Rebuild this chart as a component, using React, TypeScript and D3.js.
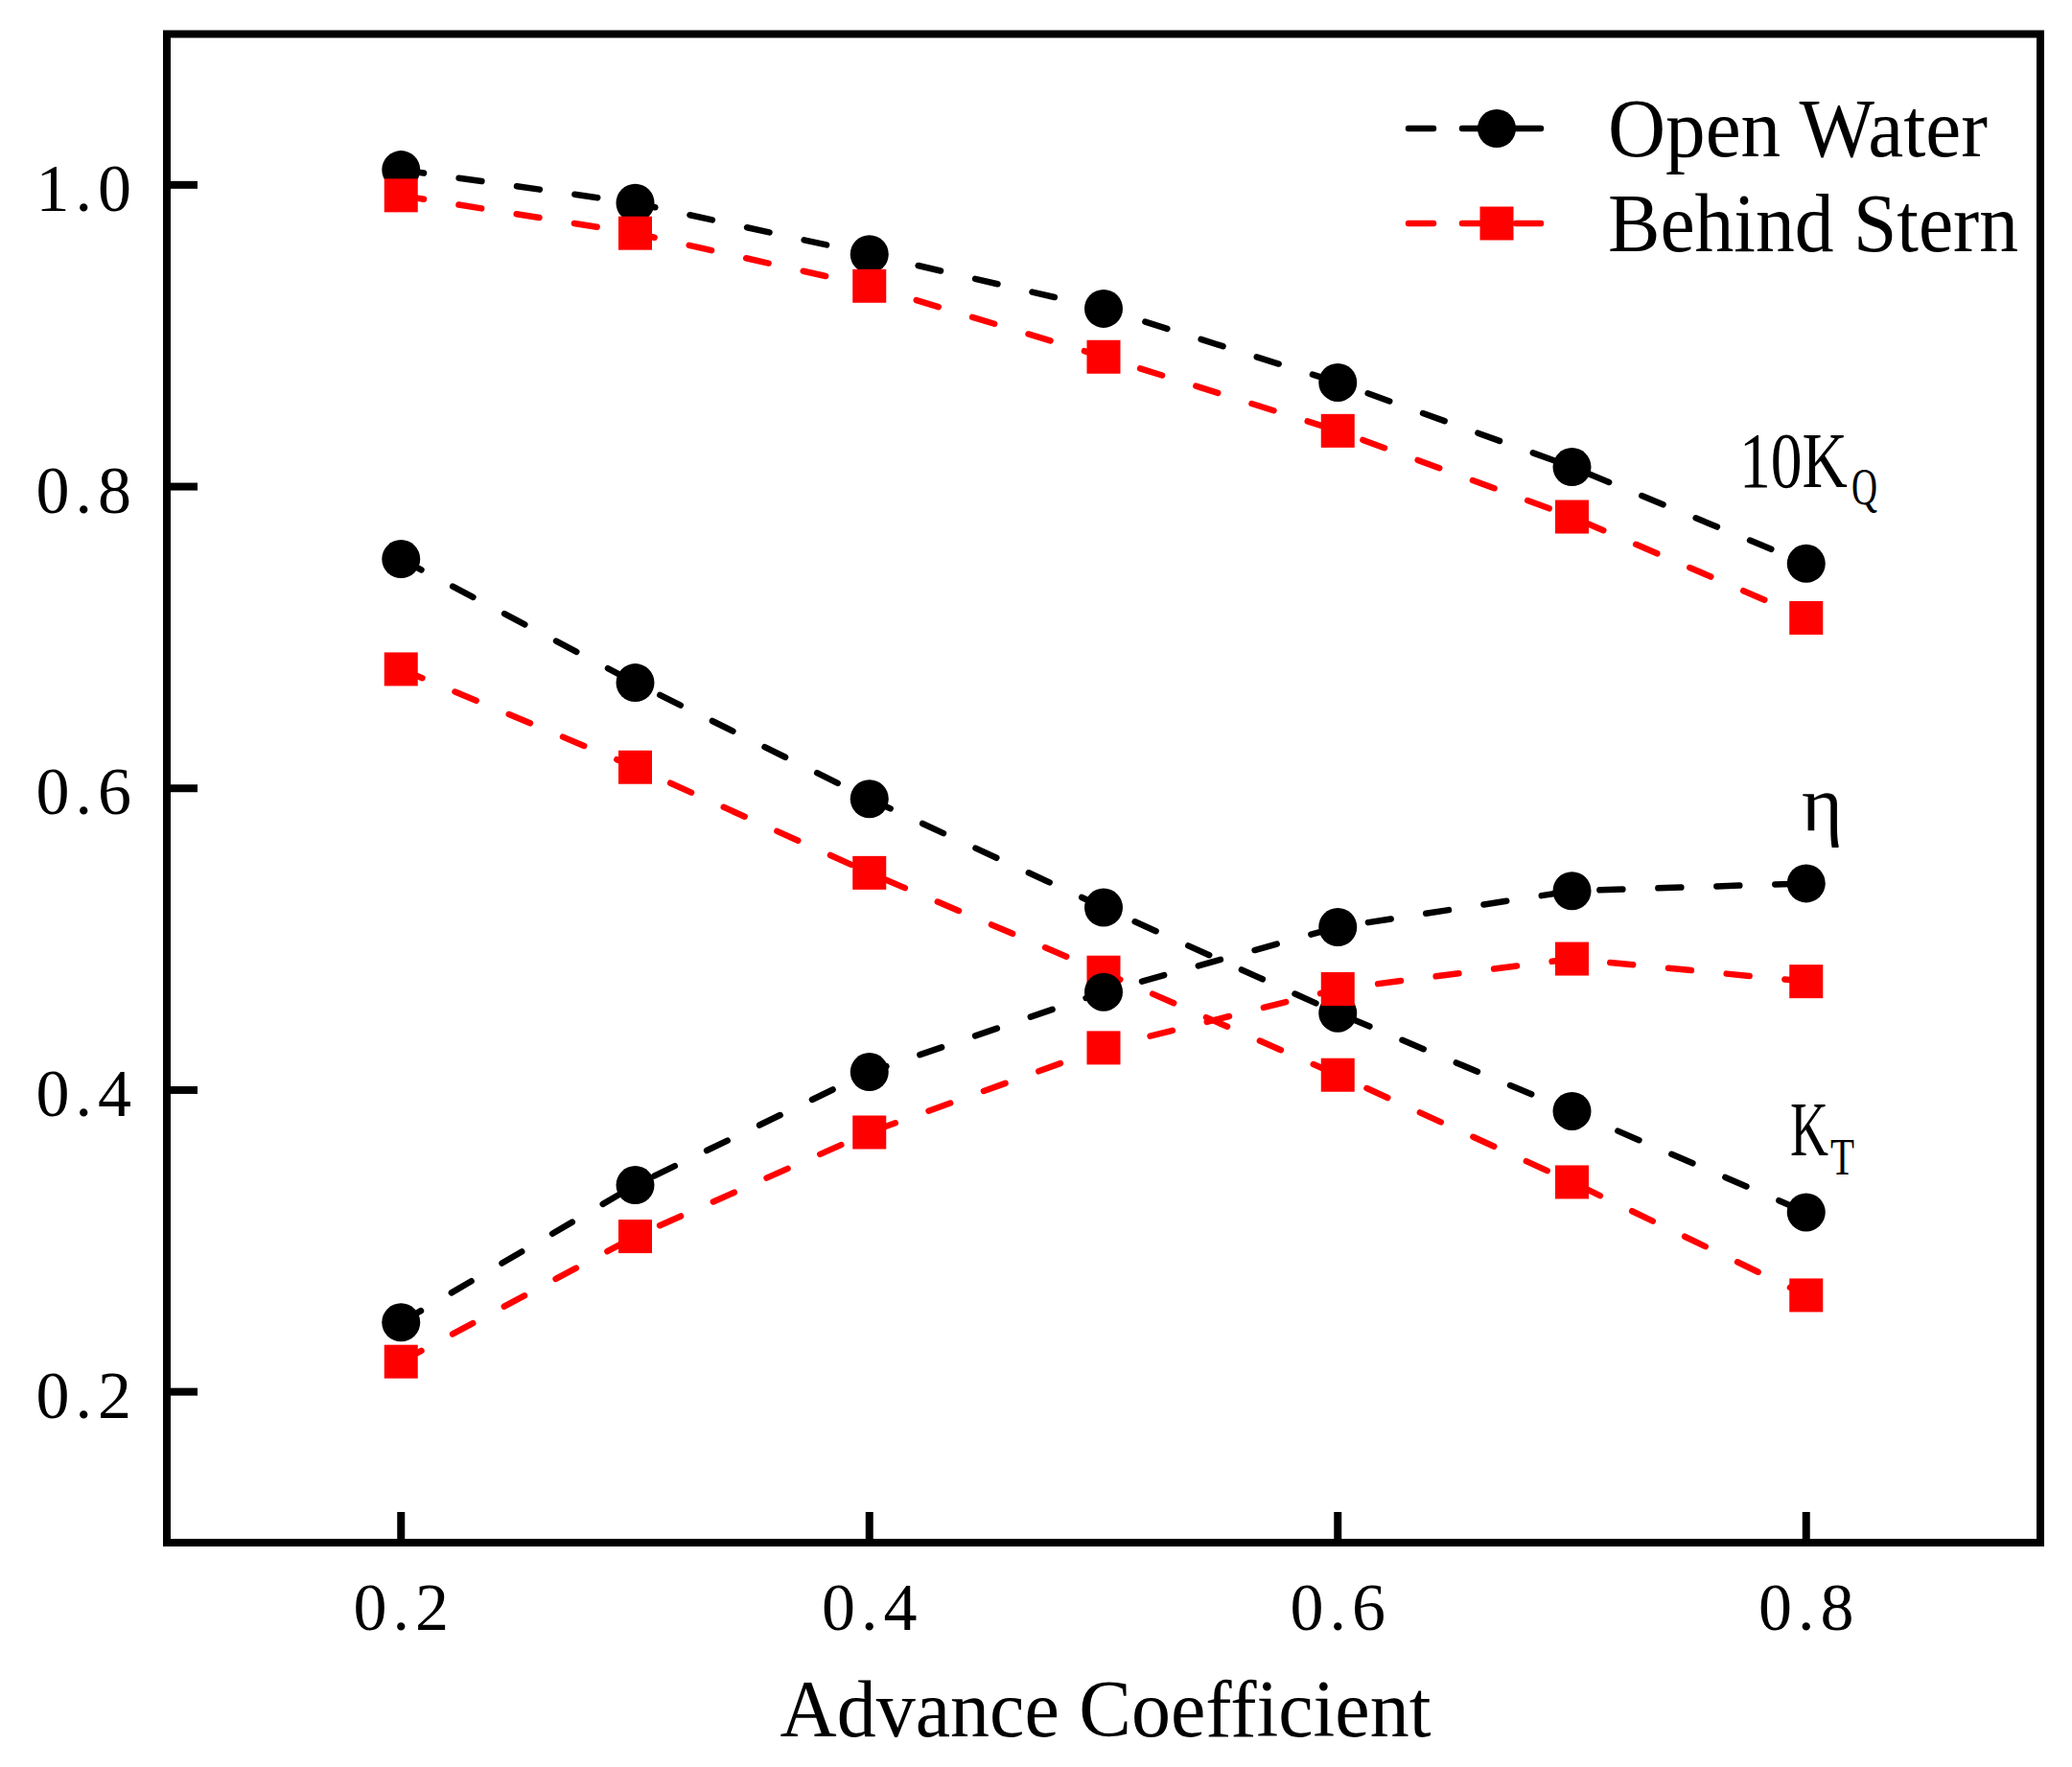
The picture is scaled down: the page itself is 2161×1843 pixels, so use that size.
import React, { useEffect } from 'react';
import * as d3 from 'd3';

// Advance coefficient J
const advance = [0.2, 0.3, 0.4, 0.5, 0.6, 0.7, 0.8];

// 10KQ
const kq10Open = [1.010, 0.988, 0.954, 0.918, 0.869, 0.813, 0.749];
const kq10Stern = [0.993, 0.968, 0.933, 0.886, 0.837, 0.780, 0.713];
// KT
const ktOpen = [0.752, 0.670, 0.593, 0.521, 0.451, 0.386, 0.319];
const ktStern = [0.679, 0.614, 0.544, 0.478, 0.410, 0.339, 0.264];
// efficiency
const etaOpen = [0.246, 0.337, 0.412, 0.465, 0.508, 0.532, 0.537];
const etaStern = [0.220, 0.303, 0.372, 0.428, 0.467, 0.487, 0.472];

const xTicks = [0.2, 0.4, 0.6, 0.8];
const yTicks = [0.2, 0.4, 0.6, 0.8, 1.0];

const legendNames = ['Open Water', 'Behind Stern'];

const W = 2161;
const H = 1843;
const left = 174;
const right = 2128;
const top = 35.5;
const bottom = 1609;

const FONT = '"Liberation Serif", "Times New Roman", serif';
const DASH = '24 37';

type Series = { values: number[]; kind: 'open' | 'stern' };

// drawing order as in the original plot
const series: Series[] = [
  { values: kq10Open, kind: 'open' },
  { values: kq10Stern, kind: 'stern' },
  { values: ktOpen, kind: 'open' },
  { values: ktStern, kind: 'stern' },
  { values: etaOpen, kind: 'open' },
  { values: etaStern, kind: 'stern' },
];

const colorOf = (k: 'open' | 'stern') => (k === 'open' ? '#000000' : '#ff0000');

const Marker: React.FC<{ kind: 'open' | 'stern'; cx: number; cy: number }> = ({ kind, cx, cy }) =>
  kind === 'open'
    ? <circle cx={cx} cy={cy} r={20} fill="#000" />
    : <rect x={cx - 17.5} y={cy - 17.5} width={35} height={35} fill="#ff0000" />;

const App: React.FC = () => {
  useEffect(() => {
    document.body.style.margin = '0';
  }, []);

  const x = d3.scaleLinear().domain([0.1, 0.9]).range([left, right]);
  const y = d3.scaleLinear().domain([0.1, 1.1]).range([bottom, top]);
  const line = d3.line<number>()
    .x((_, i) => x(advance[i]))
    .y(d => y(d));
  const fmt = d3.format('.1f');

  return (
    <svg width={W} height={H} style={{ display: 'block', background: '#fff' }} fontFamily={FONT}>
      <rect x={0} y={0} width={W} height={H} fill="#fff" />

      {series.map((s, si) => (
        <g key={si}>
          <path
            d={line(s.values) || ''}
            fill="none"
            stroke={colorOf(s.kind)}
            strokeWidth={6.5}
            strokeDasharray={DASH}
            strokeLinecap="round"
          />
          {s.values.map((v, i) => (
            <Marker key={i} kind={s.kind} cx={x(advance[i])} cy={y(v)} />
          ))}
        </g>
      ))}

      {/* frame */}
      <rect x={left} y={top} width={right - left} height={bottom - top} fill="none" stroke="#000" strokeWidth={8} />

      {/* x ticks */}
      {xTicks.map(t => (
        <g key={'x' + t}>
          <line x1={x(t)} x2={x(t)} y1={bottom} y2={bottom - 32} stroke="#000" strokeWidth={8} />
          <text x={x(t) + 3} y={1700} fontSize={70} letterSpacing={6} textAnchor="middle">{fmt(t)}</text>
        </g>
      ))}

      {/* y ticks */}
      {yTicks.map(t => (
        <g key={'y' + t}>
          <line x1={left} x2={left + 32} y1={y(t)} y2={y(t)} stroke="#000" strokeWidth={8} />
          <text x={143} y={y(t) + 27} fontSize={70} letterSpacing={6} textAnchor="end">{fmt(t)}</text>
        </g>
      ))}

      <text x={1153} y={1811} fontSize={84} textAnchor="middle" textLength={679} lengthAdjust="spacingAndGlyphs">
        Advance Coefficient
      </text>

      {/* curve labels, subscripts as tspans of the same text */}
      <text fontSize={83}>
        <tspan x={1814} y={508} textLength={113} lengthAdjust="spacingAndGlyphs">10K</tspan>
        <tspan x={1931} y={526} fontSize={54} textLength={27} lengthAdjust="spacingAndGlyphs">Q</tspan>
      </text>
      <text x={1879} y={866} fontSize={82}>η</text>
      <text fontSize={80}>
        <tspan x={1867} y={1205} textLength={40} lengthAdjust="spacingAndGlyphs">K</tspan>
        <tspan x={1909} y={1225} fontSize={54} textLength={25} lengthAdjust="spacingAndGlyphs">T</tspan>
      </text>

      {/* legend */}
      {legendNames.map((name, i) => {
        const kind = i === 0 ? 'open' : 'stern';
        const ly = 134 + i * 99;
        return (
          <g key={name}>
            <line x1={1469} x2={1622} y1={ly} y2={ly} stroke={colorOf(kind)} strokeWidth={6.5}
              strokeDasharray="26 30" strokeLinecap="round" />
            <Marker kind={kind} cx={1561} cy={ly} />
            <text x={1677} y={ly + 29} fontSize={86} textLength={i === 0 ? 396 : 428} lengthAdjust="spacingAndGlyphs">
              {name}
            </text>
          </g>
        );
      })}
    </svg>
  );
};

export default App;
